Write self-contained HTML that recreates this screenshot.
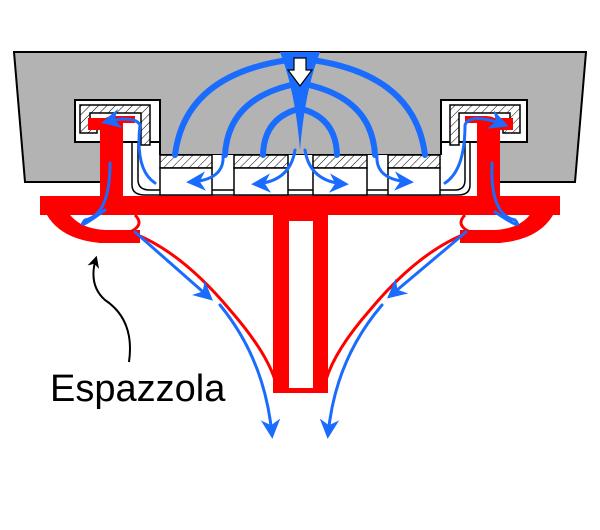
<!DOCTYPE html>
<html><head><style>body{margin:0;background:#fff}svg{display:block}</style></head><body>
<svg width="600" height="530" viewBox="0 0 600 530" xmlns="http://www.w3.org/2000/svg">
<defs>
<pattern id="h" width="6" height="6" patternUnits="userSpaceOnUse" patternTransform="rotate(45)">
<rect width="6" height="6" fill="#fff"/><line x1="0" y1="0" x2="0" y2="6" stroke="#000" stroke-width="1"/></pattern>
<marker id="a" viewBox="0 0 10 10" refX="8" refY="5" markerWidth="6.5" markerHeight="6.5" orient="auto"><path d="M0,0 L10,5 L0,10 L3,5z" fill="#1a6cff"/></marker>
<marker id="k" viewBox="0 0 10 10" refX="8" refY="5" markerWidth="6" markerHeight="6" orient="auto"><path d="M0,0 L10,5 L0,10 L3,5z" fill="#000"/></marker>
</defs>
<path d="M14,52 H586 L575,182 H499 V142 H441 V155 H160 V142 H105 V182 H25 Z" fill="#b3b3b3" stroke="#000" stroke-width="2"/>
<rect x="105" y="155" width="394" height="40" fill="#fff"/>
<rect x="75" y="100" width="85" height="42" fill="#fff" stroke="#000" stroke-width="2"/>
<path d="M80,105 H150 V145 H141 V113 H90 V125 H97 V133 H80 Z" fill="url(#h)" stroke="#000" stroke-width="1.5"/>
<rect x="441" y="100" width="86" height="42" fill="#fff" stroke="#000" stroke-width="2"/>
<path d="M450,105 H520 V133 H503 V125 H510 V113 H459 V145 H450 Z" fill="url(#h)" stroke="#000" stroke-width="1.5"/>
<path d="M138,142 V180 Q138,190 150,190 H455 Q465,190 465,180 V142" fill="none" stroke="#000" stroke-width="1.5"/>
<path d="M132,142 V185 Q132,195 145,195 H458 Q470,195 470,185 V142" fill="none" stroke="#000" stroke-width="1.5"/>
<g stroke="#000" stroke-width="1.5">
<rect x="160" y="155" width="52" height="13" fill="url(#h)"/><rect x="160" y="168" width="52" height="27" fill="#fff"/>
<rect x="234" y="155" width="54" height="13" fill="url(#h)"/><rect x="234" y="168" width="54" height="27" fill="#fff"/>
<rect x="313" y="155" width="54" height="13" fill="url(#h)"/><rect x="313" y="168" width="54" height="27" fill="#fff"/>
<rect x="388" y="155" width="52" height="13" fill="url(#h)"/><rect x="388" y="168" width="52" height="27" fill="#fff"/>
</g>
<g fill="#ff0000">
<rect x="40" y="196" width="520" height="19"/>
<path d="M40,196 H62 Q68,228 105,230 H140 V243 H100 Q48,238 40,196Z"/>
<path d="M560,196 H538 Q532,228 495,230 H460 V243 H500 Q552,238 560,196Z"/>
<path d="M100,215 V128 Q100,116 115,116 H135 V123 H123 V215Z"/>
<path d="M88,118 H120 V130 H88Z"/>
<path d="M500,215 V128 Q500,116 485,116 H465 V123 H477 V215Z"/>
<path d="M480,118 H513 V130 H480Z"/>
<path d="M273,215 H328 V393 H273Z M289,221 V388 H313 V221Z" fill-rule="evenodd"/>
</g>
<g fill="none" stroke="#ff0000" stroke-width="3">
<path d="M135,215 Q145,225 130,232 Q180,250 230,310 Q265,350 275,380"/>
<path d="M465,215 Q455,225 470,232 Q420,250 370,310 Q335,350 326,380"/>
</g>
<g fill="none" stroke="#1a6cff" stroke-linecap="round">
<path d="M288,60 Q185,75 175,155" stroke-width="6"/>
<path d="M291,85 Q228,100 225,155" stroke-width="6"/>
<path d="M295,110 Q264,120 263,155" stroke-width="6"/>
<path d="M312,60 Q415,75 425,155" stroke-width="6"/>
<path d="M309,85 Q372,100 375,155" stroke-width="6"/>
<path d="M305,110 Q336,120 337,155" stroke-width="6"/>
<g stroke-width="3">
<path d="M223,155 Q225,180 190,182" marker-end="url(#a)"/>
<path d="M295,150 Q290,182 255,184" marker-end="url(#a)"/>
<path d="M305,150 Q310,182 345,184" marker-end="url(#a)"/>
<path d="M377,155 Q375,180 410,182" marker-end="url(#a)"/>
<path d="M155,183 Q135,170 140,125 Q135,115 105,122" marker-end="url(#a)"/>
<path d="M445,183 Q465,170 465,125 Q470,112 505,125" marker-end="url(#a)"/>
<path d="M110,163 Q110,215 85,220 Q75,232 105,210"/>
<path d="M492,163 Q490,215 515,220 Q525,232 495,212"/>
<path d="M135,232 L210,298" marker-end="url(#a)"/>
<path d="M220,305 Q265,360 272,435" marker-end="url(#a)"/>
<path d="M466,232 L390,296" marker-end="url(#a)"/>
<path d="M382,305 Q335,360 328,435" marker-end="url(#a)"/>
</g>
</g>
<path d="M280,52 H320 Q305,90 300,150 Q295,90 280,52 Z" fill="#1a6cff"/>
<path d="M294,58 H306 V70 H312 L300,86 L288,70 H294 Z" fill="#fff" stroke="#000" stroke-width="1.2"/>
<path d="M129,362 Q135,320 105,300 Q88,285 96,258" fill="none" stroke="#000" stroke-width="2" marker-end="url(#k)"/>
<text x="50" y="401" font-family="Liberation Sans, sans-serif" font-size="38">Espazzola</text>
</svg>
</body></html>
